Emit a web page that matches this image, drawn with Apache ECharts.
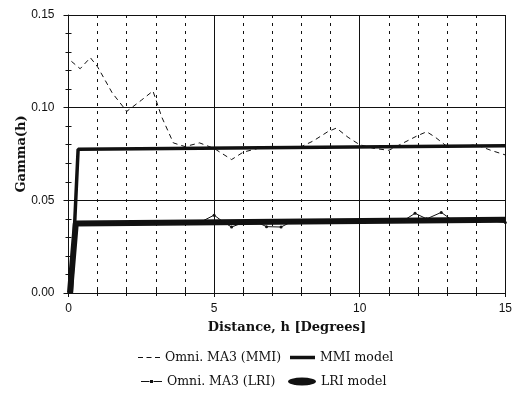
<!DOCTYPE html>
<html>
<head>
<meta charset="utf-8">
<script src="https://cdn.jsdelivr.net/npm/echarts@6/dist/echarts.min.js"></script>
<style>
  html, body { margin: 0; padding: 0; background: #fff; }
  #chart { width: 515px; height: 395px; }
</style>
</head>
<body>
<div id="chart"></div>
<script>
// Experimental semivariogram, MMI (dashed)
const lagsMMI = [0.1, 0.4, 0.75, 1.0, 1.5, 2.0, 2.5, 2.9, 3.2, 3.6, 4.0, 4.5, 5.0, 5.6, 6.0, 6.5, 7.0, 7.5, 8.0, 8.4, 8.9, 9.2, 9.6, 10.0, 10.5, 11.0, 11.5, 12.0, 12.3, 12.6, 13.0, 13.5, 14.0, 14.5, 15.0];
const gammaMMI = [0.125, 0.121, 0.127, 0.122, 0.108, 0.098, 0.104, 0.109, 0.095, 0.081, 0.079, 0.081, 0.078, 0.072, 0.076, 0.078, 0.078, 0.078, 0.079, 0.082, 0.087, 0.089, 0.084, 0.080, 0.078, 0.077, 0.081, 0.085, 0.087, 0.084, 0.079, 0.079, 0.080, 0.077, 0.0745];

// Experimental semivariogram, LRI (thin line with dots)
const lagsLRI = [0.3, 0.5, 1.0, 1.5, 2.0, 2.5, 3.0, 3.5, 4.0, 4.5, 5.0, 5.3, 5.6, 6.0, 6.5, 6.8, 7.3, 7.6, 8.0, 8.5, 9.0, 9.5, 10.0, 10.5, 11.0, 11.5, 11.9, 12.3, 12.8, 13.2, 13.5, 14.0, 14.5, 15.0];
const gammaLRI = [0.037, 0.038, 0.0375, 0.0378, 0.038, 0.038, 0.0385, 0.038, 0.038, 0.038, 0.042, 0.0385, 0.0356, 0.038, 0.038, 0.0358, 0.0356, 0.038, 0.0385, 0.0385, 0.0385, 0.0385, 0.039, 0.039, 0.039, 0.039, 0.043, 0.040, 0.0435, 0.039, 0.039, 0.0395, 0.039, 0.038];

// Fitted models
const lagsModelMMI = [0.1, 0.33, 15];
const gammaModelMMI = [0, 0.0775, 0.0795];
const lagsModelLRI = [0.05, 0.25, 15];
const gammaModelLRI = [0, 0.0375, 0.0395];

// Axis tick labels
const yTickLabels = ['0.00', '0.05', '0.10', '0.15'];
const xTickLabels = ['0', '5', '10', '15'];

const pairs = (xs, ys) => xs.map((x, i) => [x, ys[i]]);

const serif = 'DejaVu Serif';
const sans = 'Liberation Sans';
const ink = '#111';

// Legend key shapes
const iconDashed = 'path://M0,0h5v1h-5z M8.5,0h5v1h-5z M17,0h5v1h-5z';
const iconDotLine = 'path://M0,1.5h8.5v1h-8.5z M9,0.5h3v3h-3z M12.5,1.5h8.5v1h-8.5z';
const iconEllipse = 'path://M0,4a14,4 0 1,0 28,0a14,4 0 1,0 -28,0z';

const chart = echarts.init(document.getElementById('chart'), null, { renderer: 'canvas' });

const legendText = { fontFamily: serif, fontSize: 12.5, color: ink };
const legendBase = { itemGap: 0, textStyle: legendText, itemStyle: { borderWidth: 0 }, selectedMode: false };

chart.setOption({
  animation: false,
  backgroundColor: '#fff',
  grid: { left: 68.5, right: 7, top: 15, bottom: 102, show: false },
  xAxis: [{
    type: 'value', min: 0, max: 15, interval: 5,
    name: 'Distance, h [Degrees]', nameLocation: 'middle', nameGap: 28, nameMoveOverlap: false,
    nameTextStyle: { fontFamily: serif, fontWeight: 'bold', fontSize: 13, color: ink },
    axisLine: { show: true, lineStyle: { color: ink, width: 1 } },
    axisTick: { show: true, length: 4, lineStyle: { color: ink } },
    minorTick: { show: true, splitNumber: 5, length: 3, lineStyle: { color: ink } },
    axisLabel: {
      margin: 10, fontFamily: sans, fontSize: 12, color: ink,
      formatter: v => xTickLabels[Math.round(v / 5)]
    },
    splitLine: { show: true, lineStyle: { color: ink, width: 1 } },
    minorSplitLine: { show: true, lineStyle: { color: ink, width: 1, type: [3, 5] } }
  }, {
    type: 'value', min: 0, max: 15, interval: 5, position: 'bottom',
    axisLine: { show: false },
    axisTick: { show: true, inside: true, length: 3, lineStyle: { color: ink } },
    minorTick: { show: true, splitNumber: 5, length: 3, lineStyle: { color: ink } },
    axisLabel: { show: false }, splitLine: { show: false }
  }],
  yAxis: [{
    type: 'value', min: 0, max: 0.15, interval: 0.05,
    name: 'Gamma(h)', nameLocation: 'middle', nameGap: 40, nameMoveOverlap: false,
    nameTextStyle: { fontFamily: serif, fontWeight: 'bold', fontSize: 13, color: ink },
    axisLine: { show: true, lineStyle: { color: ink, width: 1 } },
    axisTick: { show: true, length: 5, lineStyle: { color: ink } },
    minorTick: { show: true, splitNumber: 5, length: 3, lineStyle: { color: ink } },
    axisLabel: {
      margin: 14, fontFamily: sans, fontSize: 12, color: ink,
      formatter: v => yTickLabels[Math.round(v / 0.05)]
    },
    splitLine: { show: true, lineStyle: { color: ink, width: 1 } }
  }, {
    type: 'value', min: 0, max: 0.15, interval: 0.05, position: 'left',
    axisLine: { show: false },
    axisTick: { show: true, inside: true, length: 3, lineStyle: { color: ink } },
    minorTick: { show: true, splitNumber: 5, length: 3, lineStyle: { color: ink } },
    axisLabel: { show: false }, splitLine: { show: false }
  }],
  legend: [
    Object.assign({}, legendBase, {
      data: [{ name: 'Omni. MA3 (MMI)', icon: iconDashed }],
      left: 133, top: 346, itemWidth: 22, itemHeight: 1.2
    }),
    Object.assign({}, legendBase, {
      data: [{ name: 'MMI model', icon: 'rect' }],
      left: 285, top: 346, itemWidth: 25, itemHeight: 3.5
    }),
    Object.assign({}, legendBase, {
      data: [{ name: 'Omni. MA3 (LRI)', icon: iconDotLine }],
      left: 136, top: 370, itemWidth: 21, itemHeight: 4
    }),
    Object.assign({}, legendBase, {
      data: [{ name: 'LRI model', icon: iconEllipse }],
      left: 283, top: 370, itemWidth: 28, itemHeight: 8
    })
  ],
  series: [
    {
      name: 'Omni. MA3 (MMI)', type: 'line', data: pairs(lagsMMI, gammaMMI),
      symbol: 'none', color: ink, z: 3,
      lineStyle: { color: ink, width: 1, type: [5, 4] }
    },
    {
      name: 'MMI model', type: 'line', data: pairs(lagsModelMMI, gammaModelMMI),
      symbol: 'none', color: ink, z: 4,
      lineStyle: { color: ink, width: 3.5 }
    },
    {
      name: 'LRI model', type: 'line', data: pairs(lagsModelLRI, gammaModelLRI),
      symbol: 'none', color: ink, z: 4,
      lineStyle: { color: ink, width: 6 }
    },
    {
      name: 'Omni. MA3 (LRI)', type: 'line', data: pairs(lagsLRI, gammaLRI),
      symbol: 'circle', symbolSize: 3, color: ink, z: 5,
      itemStyle: { color: ink },
      lineStyle: { color: ink, width: 1 }
    }
  ]
});
</script>
</body>
</html>
